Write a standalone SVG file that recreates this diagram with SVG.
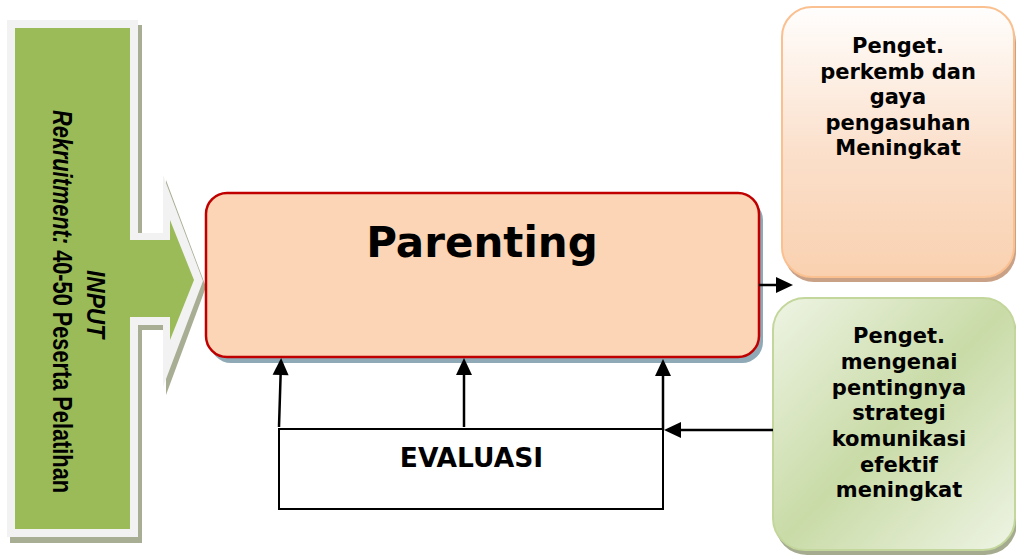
<svg xmlns="http://www.w3.org/2000/svg" width="1016" height="558" viewBox="0 0 1016 558">
<style>
.v{font-family:"DejaVu Sans","Verdana",sans-serif;font-weight:bold;fill:#000;text-anchor:middle}
.a{font-family:"Liberation Sans Narrow","Liberation Sans","Arial",sans-serif;font-weight:bold;fill:#000;text-anchor:middle}
.con{stroke:#000;stroke-width:2.5;fill:none;marker-end:url(#ah)}
</style>
<defs>
<marker id="ah" markerUnits="userSpaceOnUse" markerWidth="17" markerHeight="16" refX="13" refY="8" orient="auto" overflow="visible"><path d="M0,0 L17,8 L0,16 Z" fill="#000"/></marker>
<linearGradient id="gPeach" x1="0" y1="0" x2="0" y2="1"><stop offset="0" stop-color="#fffefd"/><stop offset="0.55" stop-color="#fbdfca"/><stop offset="1" stop-color="#f9d1b0"/></linearGradient>
<linearGradient id="gGreen" x1="0" y1="0" x2="1" y2="1"><stop offset="0" stop-color="#eef4e4"/><stop offset="0.5" stop-color="#c9dba7"/><stop offset="1" stop-color="#eef4e4"/></linearGradient>
</defs>

<g id="input">
<polygon points="10,25 142,25 142,238 166,238 166,180 206,287 166,395 166,330 142,330 142,543 10,543" fill="#a8ae94"/>
<polygon points="7,20 138,20 138,233 163,233 163,175 203,281 163,387 163,325 138,325 138,537 7,537" fill="#f2f2f2"/>
<polygon points="15,28 130,28 130,240 170,240 170,220 194,280 170,340 170,317 130,317 130,529 15,529" fill="#9bbb59"/>
<text class="a" transform="translate(87,304) rotate(90)" font-size="25" font-style="italic" textLength="68" lengthAdjust="spacingAndGlyphs">INPUT</text>
<text class="a" transform="translate(53,301.5) rotate(90)" font-size="27" textLength="383" lengthAdjust="spacingAndGlyphs"><tspan font-style="italic">Rekruitment:</tspan> 40-50 Peserta Pelatihan</text>
</g>

<g id="parenting">
<rect x="210" y="199" width="553" height="164" rx="21" fill="#8faab6"/>
<rect x="206" y="193" width="553" height="164" rx="21" fill="#fbd5b5" stroke="#c00000" stroke-width="2.5"/>
<text class="v" x="482" y="257" font-size="42">Parenting</text>
</g>

<g id="hasil1">
<rect x="784" y="12" width="232" height="270" rx="30" fill="#c9a186"/>
<rect x="782" y="7" width="232" height="270" rx="30" fill="url(#gPeach)" stroke="#fac090" stroke-width="2"/>
<text class="v" font-size="21"><tspan x="898" y="53">Penget.</tspan><tspan x="898" y="78.5">perkemb dan</tspan><tspan x="898" y="104">gaya</tspan><tspan x="898" y="129.5">pengasuhan</tspan><tspan x="898" y="155">Meningkat</tspan></text>
</g>

<g id="hasil2">
<rect x="775" y="303" width="242" height="252" rx="32" fill="#a5ab8e"/>
<rect x="773" y="298" width="242" height="252" rx="32" fill="url(#gGreen)" stroke="#c3d69b" stroke-width="2"/>
<text class="v" font-size="21"><tspan x="899" y="343">Penget.</tspan><tspan x="899" y="369">mengenai</tspan><tspan x="899" y="394.5">pentingnya</tspan><tspan x="899" y="420">strategi</tspan><tspan x="899" y="446">komunikasi</tspan><tspan x="899" y="471.5">efektif</tspan><tspan x="899" y="497">meningkat</tspan></text>
</g>

<g id="evaluasi">
<rect x="279" y="429" width="384" height="80" fill="#fff" stroke="#000" stroke-width="2"/>
<text class="v" x="471.5" y="467" font-size="26.5">EVALUASI</text>
</g>

<g id="connectors">
<line class="con" x1="759" y1="285" x2="789" y2="285"/>
<line class="con" x1="773" y1="430" x2="668" y2="430"/>
<line class="con" x1="279" y1="427" x2="281" y2="362"/>
<line class="con" x1="464" y1="427" x2="464" y2="362"/>
<line class="con" x1="663" y1="430" x2="663" y2="363"/>
</g>
</svg>
